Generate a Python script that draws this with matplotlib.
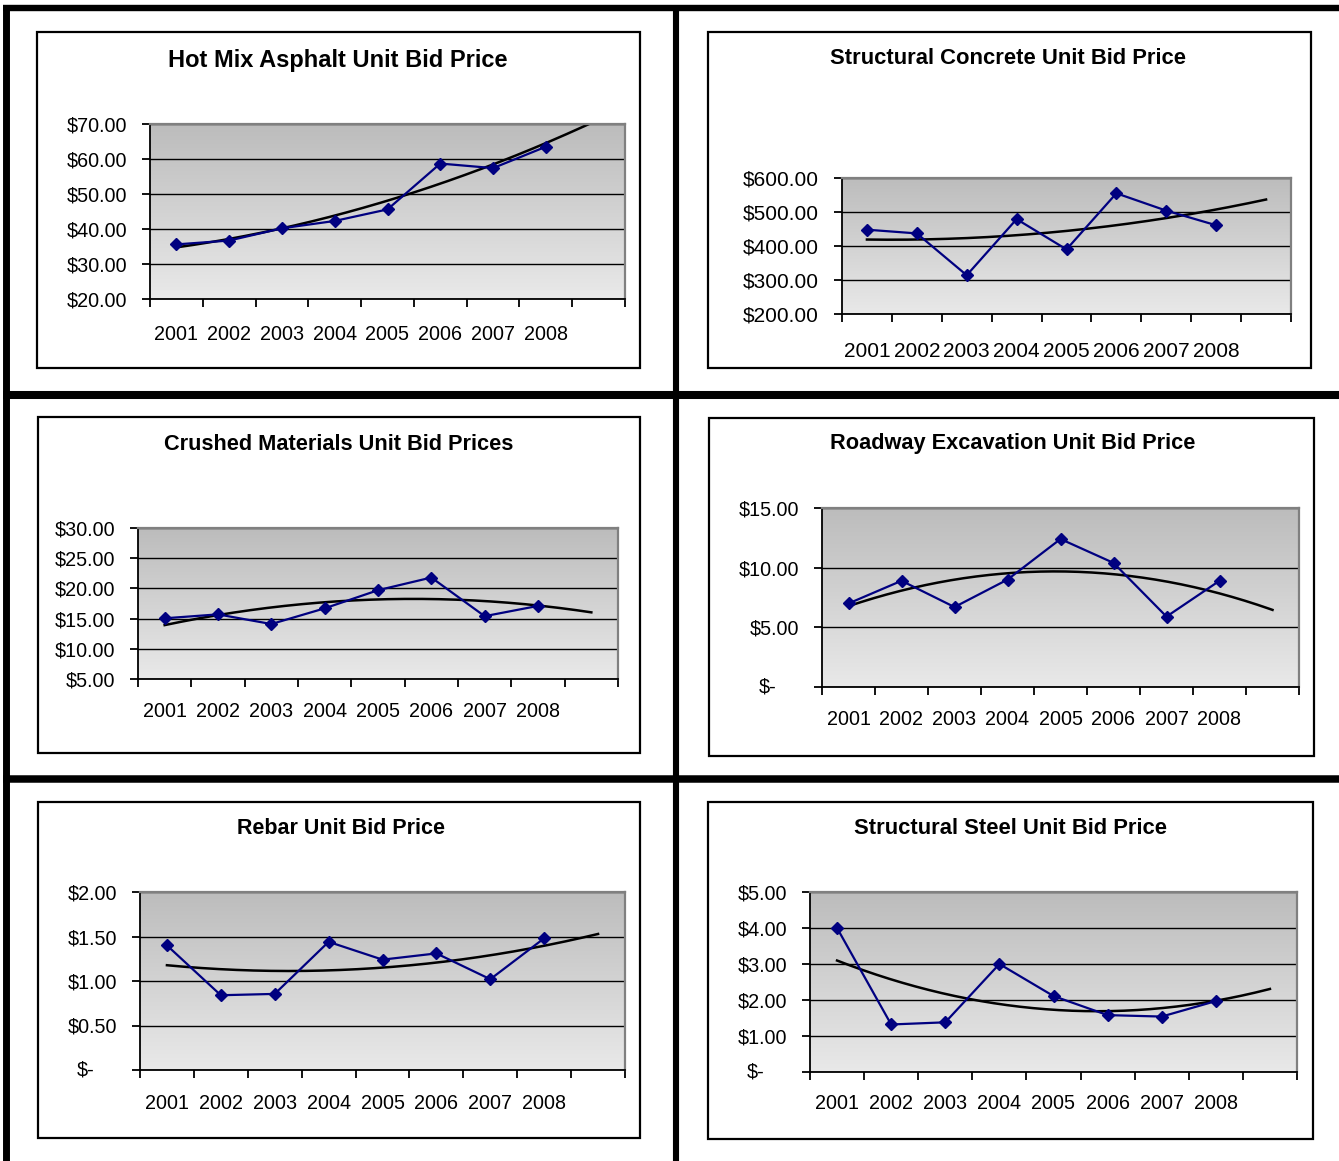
# Six unit bid price charts, 2001-2008, each with a 2nd order trend line.

import numpy as np
import matplotlib.pyplot as plt
from matplotlib.lines import Line2D
from matplotlib.patches import Rectangle
from matplotlib.colors import LinearSegmentedColormap

plt.rcParams['font.family'] = ['Liberation Sans', 'DejaVu Sans']

years = ['2001', '2002', '2003', '2004', '2005', '2006', '2007', '2008']

hot_mix = [35.6, 36.7, 40.2, 42.3, 45.6, 58.7, 57.4, 63.5]
concrete = [448, 437, 314, 479, 390, 555, 504, 461]
crushed = [15.05, 15.7, 14.1, 16.7, 19.7, 21.8, 15.4, 17.1]
roadway = [7.0, 8.9, 6.7, 9.0, 12.4, 10.4, 5.9, 8.9]
rebar = [1.40, 0.84, 0.855, 1.44, 1.24, 1.31, 1.02, 1.48]
steel = [4.0, 1.32, 1.38, 3.0, 2.11, 1.58, 1.54, 1.97]

hot_mix_ticks = [20, 30, 40, 50, 60, 70]
concrete_ticks = [200, 300, 400, 500, 600]
crushed_ticks = [5, 10, 15, 20, 25, 30]
roadway_ticks = [0, 5, 10, 15]
rebar_ticks = [0, 0.5, 1.0, 1.5, 2.0]
steel_ticks = [0, 1, 2, 3, 4, 5]

titles = ['Hot Mix Asphalt Unit Bid Price', 'Structural Concrete Unit Bid Price',
          'Crushed Materials Unit Bid Prices', 'Roadway Excavation Unit Bid Price',
          'Rebar Unit Bid Price', 'Structural Steel Unit Bid Price']
series = [hot_mix, concrete, crushed, roadway, rebar, steel]
yticks = [hot_mix_ticks, concrete_ticks, crushed_ticks, roadway_ticks, rebar_ticks, steel_ticks]

W, H = 1339, 1161

# pixel layout: box (l, t, r, b), plot area (l, t, r, b), title centre, x label offset, sizes
layout = [
    dict(box=(37, 32, 640, 368), ax=(150, 124, 625, 299), title=(338, 60), xoff=33, tsize=17, fsize=14.2),
    dict(box=(708, 32, 1311, 368), ax=(842, 178, 1291, 314), title=(1008, 58), xoff=35, tsize=15.8, fsize=15),
    dict(box=(38, 417, 640, 753), ax=(138, 528, 618, 679), title=(339, 444), xoff=30, tsize=15.7, fsize=14.2),
    dict(box=(709, 418, 1314, 756), ax=(822, 508, 1299, 687), title=(1013, 444), xoff=30, tsize=15.7, fsize=14.2),
    dict(box=(38, 802, 640, 1138), ax=(140, 892, 625, 1070), title=(341, 828), xoff=31, tsize=15.5, fsize=14.2),
    dict(box=(708, 802, 1313, 1139), ax=(810, 892, 1297, 1072), title=(1010, 828), xoff=29, tsize=15.8, fsize=14.2),
]

fig = plt.figure(figsize=(W / 100, H / 100), dpi=100)
fig.patch.set_facecolor('white')


def fx(x):
    return x / W


def fy(y):
    return 1 - y / H


# thick frame lines
for (x0, y0, x1, y1, lw) in [(3, 8, W, 8, 4.6), (6.5, 5, 6.5, H, 5.0), (676, 5, 676, H, 4.4),
                             (3, 395, W, 395, 5.8), (3, 779, W, 779, 5.4)]:
    fig.add_artist(Line2D([fx(x0), fx(x1)], [fy(y0), fy(y1)], transform=fig.transFigure,
                          color='black', lw=lw, solid_capstyle='butt'))

grad = LinearSegmentedColormap.from_list('grad', ['#bcbcbc', '#e9e9e9'])

for title, vals, ticks, lay in zip(titles, series, yticks, layout):
    bl, bt, br, bb = lay['box']
    fig.add_artist(Rectangle((fx(bl), fy(bb)), (br - bl) / W, (bb - bt) / H,
                             transform=fig.transFigure, fill=False, ec='black', lw=1.6))
    fig.text(fx(lay['title'][0]), fy(lay['title'][1]), title, ha='center', va='center',
             fontsize=lay['tsize'], fontweight='bold')

    al, at, ar, ab = lay['ax']
    ax = fig.add_axes([fx(al), fy(ab), (ar - al) / W, (ab - at) / H])
    ax.imshow(np.linspace(0, 1, 256).reshape(-1, 1), cmap=grad, aspect='auto',
              extent=(0, 1, 0, 1), transform=ax.transAxes, zorder=0)

    x = np.arange(len(vals)) + 0.5
    coef = np.polyfit(np.arange(len(vals)), vals, 2)
    xt = np.linspace(0, len(vals), 200)
    ax.plot(xt + 0.5, np.polyval(coef, xt), color='black', lw=1.8, zorder=2)
    ax.plot(x, vals, color='#000080', lw=1.6, marker='D', markersize=6, zorder=3)

    ax.set_xlim(0, 9)
    ax.set_ylim(ticks[0], ticks[-1])
    ax.set_yticks(ticks)
    ax.set_yticklabels(['' if v == 0 else f'${v:.2f}' for v in ticks], fontsize=lay['fsize'])
    if ticks[0] == 0:
        ax.annotate('$-', xy=(0, 0), xycoords=('axes fraction', 'data'), xytext=(-33, 0),
                    textcoords='offset points', ha='right', va='center', fontsize=lay['fsize'])
    ax.yaxis.grid(True, color='black', lw=1)

    ax.set_xticks(range(10))
    ax.set_xticklabels([])
    ax.set_xticks(x, minor=True)
    ax.set_xticklabels(years, minor=True, fontsize=lay['fsize'])
    ax.tick_params(axis='x', which='major', length=6, width=1.3, direction='out')
    ax.tick_params(axis='x', which='minor', length=0, pad=(lay['xoff'] - 7) * 0.72)
    ax.tick_params(axis='y', length=6, width=1.3, pad=10.5)

    for side in ['top', 'right']:
        ax.spines[side].set_color('#808080')
        ax.spines[side].set_linewidth(1.6)
    for side in ['left', 'bottom']:
        ax.spines[side].set_color('black')
        ax.spines[side].set_linewidth(1.3)

fig.savefig('out.png', dpi=100)
